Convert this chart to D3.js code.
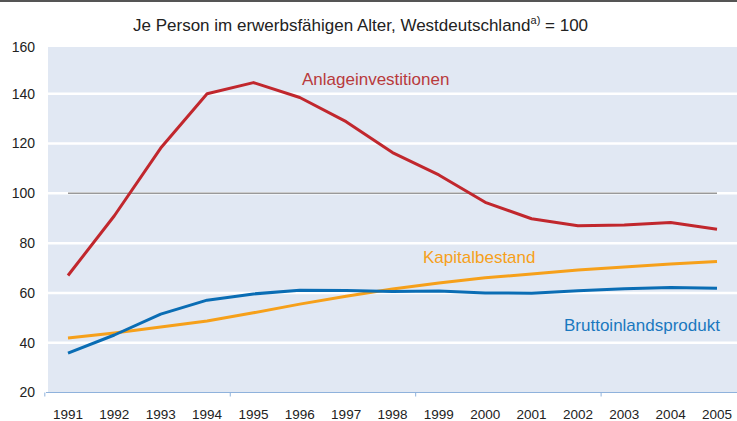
<!DOCTYPE html>
<html>
<head>
<meta charset="utf-8">
<script src="https://cdn.jsdelivr.net/npm/d3@7"></script>
<style>
  html, body { margin: 0; padding: 0; background: #fff; }
  svg { display: block; font-family: "Liberation Sans", Arial, sans-serif; }
</style>
</head>
<body>
<div id="chart"></div>
<script>
// Werte
const years = [1991, 1992, 1993, 1994, 1995, 1996, 1997, 1998, 1999, 2000, 2001, 2002, 2003, 2004, 2005];
const anlageinvestitionen = [67, 91, 118.2, 140, 144.5, 138.5, 128.8, 116.4, 107.4, 96.4, 89.8, 87, 87.3, 88.3, 85.6];
const kapitalbestand = [41.9, 43.9, 46.3, 48.7, 52, 55.5, 58.7, 61.6, 64, 66.1, 67.6, 69.2, 70.4, 71.6, 72.6];
const bruttoinlandsprodukt = [35.8, 43.1, 51.5, 57.1, 59.6, 61.1, 61, 60.6, 60.8, 60, 59.9, 60.9, 61.7, 62.2, 61.9];
const yTicks = [20, 40, 60, 80, 100, 120, 140, 160];
const referenceValue = 100;

const width = 737, height = 421;
const plot = { left: 48, right: 737, top: 47, bottom: 392.5 };

const svg = d3.select('#chart')
  .append('svg')
  .attr('width', width)
  .attr('height', height);

// Rahmenlinie oben
svg.append('line')
  .attr('x1', 0).attr('x2', width)
  .attr('y1', 1).attr('y2', 1)
  .attr('stroke', '#555').attr('stroke-width', 2);

const x = d3.scaleLinear().domain([1991, 2005]).range([68, 717]);
const y = d3.scaleLinear().domain([20, 160]).range([plot.bottom, 44]);

// Hintergrund
svg.append('rect')
  .attr('x', plot.left).attr('y', plot.top)
  .attr('width', plot.right - plot.left)
  .attr('height', plot.bottom - plot.top)
  .attr('fill', '#e1e8f3');

// Gitterlinien
svg.append('g')
  .selectAll('line')
  .data(yTicks.filter(d => d > 20 && d < 160))
  .join('line')
  .attr('x1', plot.left).attr('x2', plot.right)
  .attr('y1', d => y(d)).attr('y2', d => y(d))
  .attr('stroke', '#fff').attr('stroke-width', 2.5);

// Y-Beschriftung
svg.append('g')
  .selectAll('text')
  .data(yTicks)
  .join('text')
  .attr('x', 35)
  .attr('y', d => Math.max(y(d), 47))
  .attr('dy', '0.35em')
  .attr('text-anchor', 'end')
  .attr('font-size', 14)
  .attr('fill', '#222')
  .text(d => d);

// X-Achse
const xAxis = svg.append('g');
xAxis.append('line')
  .attr('x1', 46).attr('x2', plot.right)
  .attr('y1', plot.bottom).attr('y2', plot.bottom)
  .attr('stroke', '#8fb2dc').attr('stroke-width', 1);
xAxis.selectAll('line.tick')
  .data([1990.5, 1994.5, 1998.5, 2002.5])
  .join('line')
  .attr('class', 'tick')
  .attr('x1', d => x(d)).attr('x2', d => x(d))
  .attr('y1', plot.bottom).attr('y2', plot.bottom + 4)
  .attr('stroke', '#8fb2dc').attr('stroke-width', 1);
xAxis.selectAll('text')
  .data(years)
  .join('text')
  .attr('x', d => x(d))
  .attr('y', 419)
  .attr('text-anchor', 'middle')
  .attr('font-size', 13.5)
  .attr('fill', '#222')
  .text(d => d);

// Referenzlinie 100
svg.append('line')
  .attr('x1', x(1991)).attr('x2', x(2005))
  .attr('y1', y(referenceValue)).attr('y2', y(referenceValue))
  .attr('stroke', '#999').attr('stroke-width', 1.5);

const line = d3.line()
  .x((d, i) => x(years[i]))
  .y(d => y(d));

const series = [
  { name: 'Kapitalbestand', values: kapitalbestand, color: '#f6a01a', text: '#f6a01a', lx: 423, ly: 263 },
  { name: 'Bruttoinlandsprodukt', values: bruttoinlandsprodukt, color: '#0a6db4', text: '#1a78bf', lx: 564, ly: 331 },
  { name: 'Anlageinvestitionen', values: anlageinvestitionen, color: '#c1272d', text: '#b83a3c', lx: 302, ly: 85 }
];

svg.append('g')
  .selectAll('path')
  .data(series)
  .join('path')
  .attr('d', d => line(d.values))
  .attr('fill', 'none')
  .attr('stroke', d => d.color)
  .attr('stroke-width', 3)
  .attr('stroke-linejoin', 'round');

svg.append('g')
  .selectAll('text')
  .data(series)
  .join('text')
  .attr('x', d => d.lx)
  .attr('y', d => d.ly)
  .attr('font-size', 17)
  .attr('fill', d => d.text)
  .text(d => d.name);

// Titel
const title = svg.append('text')
  .attr('x', 133).attr('y', 31)
  .attr('font-size', 17)
  .attr('fill', '#222');
title.append('tspan').text('Je Person im erwerbsfähigen Alter, Westdeutschland');
title.append('tspan').attr('font-size', 11).attr('dy', -7).text('a)');
title.append('tspan').attr('dy', 7).text(' = 100');
</script>
</body>
</html>
